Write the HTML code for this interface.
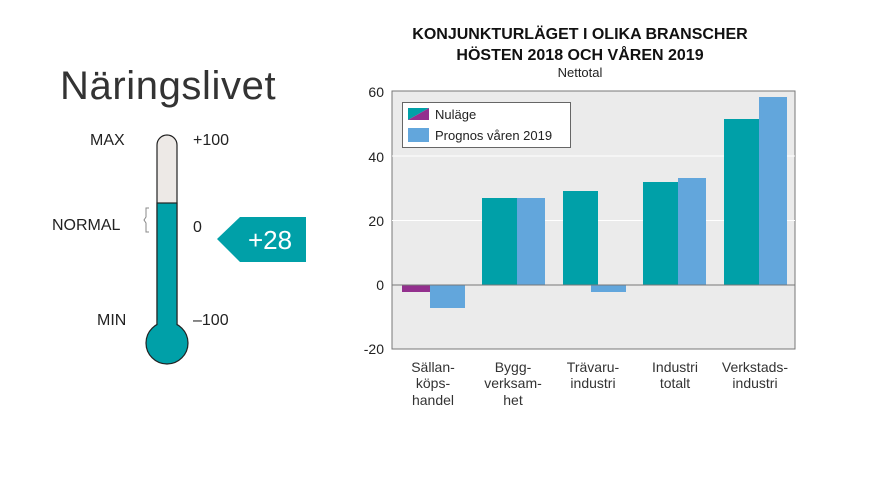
<!DOCTYPE html>
<html><head><meta charset="utf-8"><style>
html,body{margin:0;padding:0;background:#fff;}
svg{display:block;font-family:"Liberation Sans",sans-serif;}
</style></head><body>
<svg width="888" height="482" viewBox="0 0 888 482" xmlns="http://www.w3.org/2000/svg">
<rect width="888" height="482" fill="#fff"/>
<text x="60" y="99" font-size="40" fill="#333" letter-spacing="0.6">Näringslivet</text>
<text x="90" y="145" font-size="16" fill="#222">MAX</text>
<text x="193" y="145" font-size="16" fill="#222">+100</text>
<text x="52" y="230" font-size="16" fill="#222">NORMAL</text>
<text x="193" y="232" font-size="16" fill="#222">0</text>
<text x="97" y="325" font-size="16" fill="#222">MIN</text>
<text x="193" y="325" font-size="16" fill="#222">–100</text>
<path d="M149,208 h-3 v9 l-2,3 l2,3 v9 h3" fill="none" stroke="#888" stroke-width="1"/>
<rect x="157" y="135" width="20" height="200" rx="10" fill="#ede9e6" stroke="#222" stroke-width="1.2"/>
<rect x="157" y="203" width="20" height="130" fill="#00a0a8" stroke="#222" stroke-width="1.2"/>
<circle cx="167" cy="343" r="21" fill="#00a0a8" stroke="#222" stroke-width="1.2"/>
<rect x="157.6" y="320" width="18.8" height="10" fill="#00a0a8"/>
<polygon points="217,239 240,217 306,217 306,262 240,262" fill="#00a0a8"/>
<text x="270" y="249" font-size="26" fill="#fff" text-anchor="middle">+28</text>
<text x="580" y="39" font-size="16" font-weight="bold" fill="#111" text-anchor="middle">KONJUNKTURLÄGET I OLIKA BRANSCHER</text>
<text x="580" y="60" font-size="16" font-weight="bold" fill="#111" text-anchor="middle">HÖSTEN 2018 OCH VÅREN 2019</text>
<text x="580" y="77" font-size="13" fill="#222" text-anchor="middle">Nettotal</text>
<rect x="392" y="91" width="403" height="258" fill="#ebebeb" stroke="#777" stroke-width="1"/>
<line x1="392" y1="156" x2="795" y2="156" stroke="#fff" stroke-width="1"/>
<line x1="392" y1="220.5" x2="795" y2="220.5" stroke="#fff" stroke-width="1"/>
<g font-size="14" fill="#222" text-anchor="end">
<text x="384" y="97">60</text>
<text x="384" y="162">40</text>
<text x="384" y="226">20</text>
<text x="384" y="290">0</text>
<text x="384" y="354">-20</text>
</g>
<rect x="402" y="285" width="35" height="7" fill="#93308e"/>
<rect x="430" y="285" width="35" height="23" fill="#62a6dc"/>
<rect x="482" y="198" width="35" height="87" fill="#00a0a8"/>
<rect x="517" y="198" width="28" height="87" fill="#62a6dc"/>
<rect x="591" y="285" width="35" height="7" fill="#62a6dc"/>
<rect x="563" y="191" width="35" height="94" fill="#00a0a8"/>
<rect x="643" y="182" width="35" height="103" fill="#00a0a8"/>
<rect x="678" y="178" width="28" height="107" fill="#62a6dc"/>
<rect x="724" y="119" width="35" height="166" fill="#00a0a8"/>
<rect x="759" y="97" width="28" height="188" fill="#62a6dc"/>
<line x1="392" y1="285" x2="795" y2="285" stroke="#777" stroke-width="1"/>
<rect x="402.5" y="102.5" width="168" height="45" fill="#fff" stroke="#666" stroke-width="1"/>
<polygon points="408,108 429,108 408,120" fill="#00a0a8"/>
<polygon points="429,108 429,120 408,120" fill="#93308e"/>
<rect x="408" y="128" width="21" height="14" fill="#62a6dc"/>
<text x="435" y="119" font-size="13" fill="#222">Nuläge</text>
<text x="435" y="140" font-size="13" fill="#222">Prognos våren 2019</text>
<g font-size="14" fill="#333" text-anchor="middle">
<text x="433" y="372">Sällan-</text><text x="433" y="388">köps-</text><text x="433" y="405">handel</text>
<text x="513" y="372">Bygg-</text><text x="513" y="388">verksam-</text><text x="513" y="405">het</text>
<text x="593" y="372">Trävaru-</text><text x="593" y="388">industri</text>
<text x="675" y="372">Industri</text><text x="675" y="388">totalt</text>
<text x="755" y="372">Verkstads-</text><text x="755" y="388">industri</text>
</g>
</svg>
</body></html>
